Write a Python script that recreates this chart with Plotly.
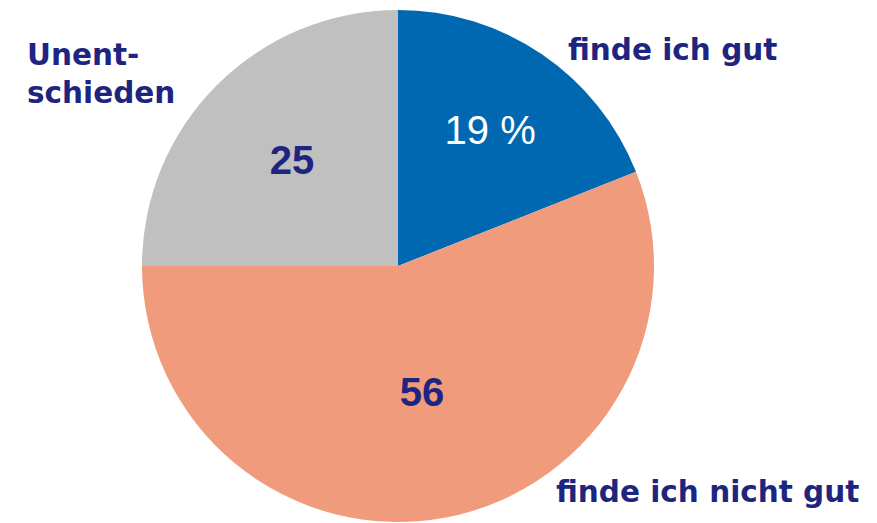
import plotly.graph_objects as go

categories = ["finde ich gut", "finde ich nicht gut", "Unent-<br>schieden"]
values = [19, 56, 25]
value_labels = ["19 %", "<b>56</b>", "<b>25</b>"]

colors = ["#0067B1", "#F09C7C", "#C0C0C0"]
navy = "#1E2580"
W, H = 877, 523

fig = go.Figure(go.Pie(
    values=values,
    labels=categories,
    text=value_labels,
    texttemplate="%{text}",
    textposition="inside",
    insidetextorientation="horizontal",
    insidetextfont=dict(family="Liberation Sans", size=40, color=["white", navy, navy]),
    marker=dict(colors=colors, line=dict(width=0)),
    sort=False,
    direction="clockwise",
    rotation=0,
    showlegend=False,
    hoverinfo="label+value",
    domain=dict(x=[142 / W, 654 / W], y=[1 - 522 / H, 1 - 10 / H]),
))

label_font = dict(family="DejaVu Sans", size=29.5, color=navy)
ann_pos = [(566, 50), (554, 492), (25, 74)]
for cat, (px, py) in zip(categories, ann_pos):
    fig.add_annotation(text="<b>" + cat + "</b>", x=px / W, y=1 - py / H, xref="paper", yref="paper",
                       xanchor="left", yanchor="middle", align="left", showarrow=False, font=label_font)

fig.update_layout(width=W, height=H, margin=dict(l=0, r=0, t=0, b=0),
                  paper_bgcolor="white", plot_bgcolor="white")
fig.write_html("out.html", config={"displayModeBar": False},
               post_script="document.body.style.margin='0';document.body.style.padding='0';")
